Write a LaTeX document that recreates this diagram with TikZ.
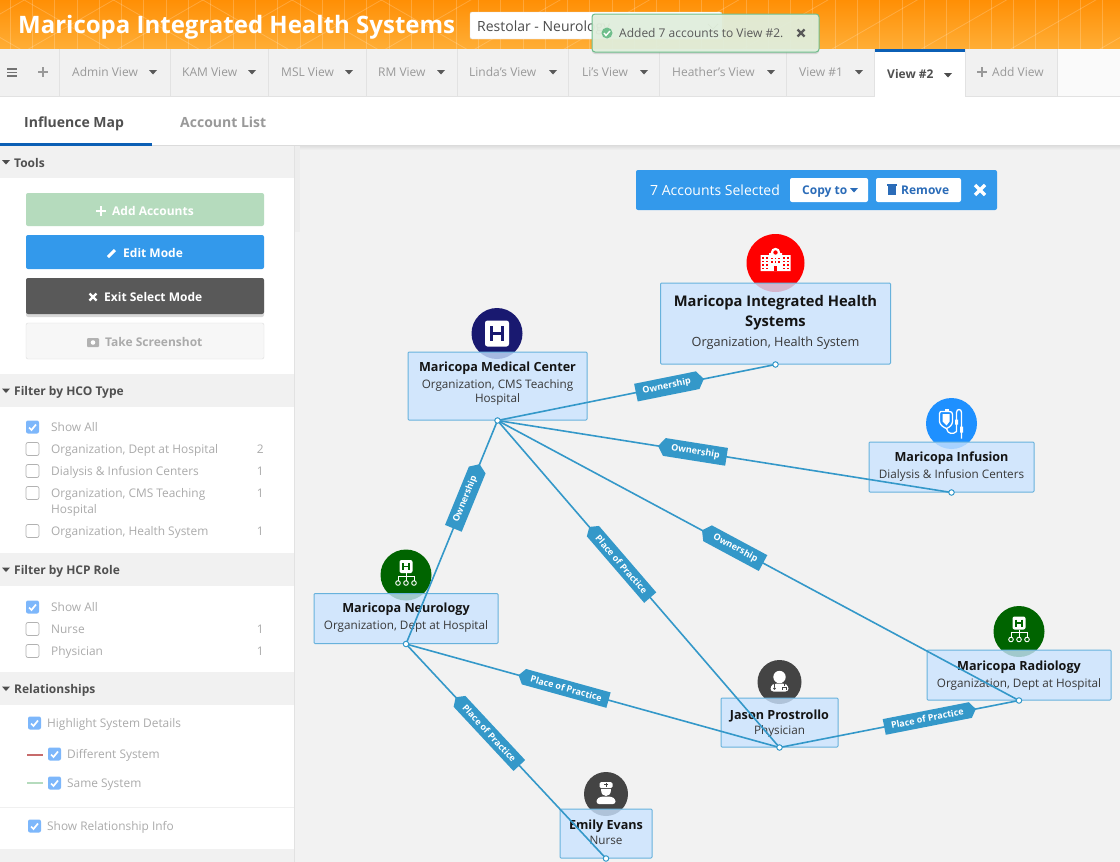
\documentclass[tikz,border=0pt]{standalone}
\usepackage{fontspec}
\setmainfont{Open Sans}
\usetikzlibrary{shapes.symbols}
\usetikzlibrary{shadows}

\definecolor{headtop}{HTML}{FF8F05}
\definecolor{headbottom}{HTML}{FFAE36}
\definecolor{barbg}{HTML}{F1F1F1}
\definecolor{mainbg}{HTML}{F2F2F2}
\definecolor{sepline}{HTML}{E2E2E2}
\definecolor{tabtext}{HTML}{999999}
\definecolor{darktext}{HTML}{505050}
\definecolor{mutedtext}{HTML}{ABABAB}
\definecolor{activeblue}{HTML}{0B5FB5}
\definecolor{btnblue}{HTML}{3399EB}
\definecolor{btngreen}{HTML}{B5DBBD}
\definecolor{btndark}{HTML}{595959}
\definecolor{checkblue}{HTML}{7DB7FB}
\definecolor{linkblue}{HTML}{2B6CB8}
\definecolor{toastbg}{HTML}{E2F0DE}
\definecolor{toastline}{HTML}{6FBE8C}
\definecolor{boxblue}{HTML}{CAE3FF}
\definecolor{boxline}{HTML}{68B2DC}
\definecolor{edgeblue}{HTML}{3498C9}
\definecolor{navyicon}{HTML}{191970}
\definecolor{greenicon}{HTML}{006400}
\definecolor{redicon}{HTML}{FF0000}
\definecolor{blueicon}{HTML}{1E90FF}
\definecolor{grayicon}{HTML}{444444}

\newcommand{\acctitle}[1]{{\color{black!92}\bfseries\fontsize{12.6}{15}\selectfont #1}}

\tikzset{
    flat/.style={anchor=base west, inner sep=0pt, yshift=-#1},
    sidetext/.style={flat=4.2pt, text=mutedtext, font=\fontsize{11.9}{16}\selectfont},
    sidecount/.style={sidetext, anchor=base east},
    sechead/.style={flat=5pt, text=darktext, font=\bfseries\fontsize{12}{14}\selectfont},
    tabtxt/.style={flat=4.2pt, text=tabtext, font=\fontsize{12}{14}\selectfont},
    btntxt/.style={flat=4.2pt, text=white, font=\bfseries\fontsize{12}{14}\selectfont},
    subtab/.style={flat=5pt, font=\bfseries\fontsize{14}{16}\selectfont},
    accbox/.style={draw=boxline, line width=1pt, fill=boxblue, fill opacity=.8, rounded corners=1pt, inner sep=0pt},
    acctext/.style={align=center, inner sep=0pt, text=black!78, font=\fontsize{11.7}{14}\selectfont},
    badge/.style={circle, inner sep=0pt},
    edge/.style={draw=edgeblue, line width=1.6pt},
    enddot/.style={circle, draw=edgeblue, fill=white, line width=1pt, minimum size=5.5pt, inner sep=0pt},
    tagbase/.style={signal, signal from=nowhere, signal pointer angle=110, fill=edgeblue, text=white, sloped,
        font=\bfseries\fontsize{9}{10}\selectfont, inner xsep=7pt, inner ysep=4.5pt, minimum height=15pt},
    tagwest/.style={tagbase, signal to=west},
    tageast/.style={tagbase, signal to=east},
    pics/caret/.style={code={\fill[#1] (-4,-2) -- (4,-2) -- (0,2.5) -- cycle;}},
    pics/plusicon/.style={code={\draw[#1, line width=2.2pt] (-5,0) -- (5,0) (0,-5) -- (0,5);}},
    pics/xicon/.style={code={\draw[#1, line width=2.2pt] (-3.5,-3.5) -- (3.5,3.5) (-3.5,3.5) -- (3.5,-3.5);}},
    pics/checkbox/.style={code={
        \draw[draw=black!30, fill=white, rounded corners=2pt, line width=.7pt] (0,-6.5) rectangle (13,6.5);}},
    pics/checked/.style={code={
        \fill[checkblue, rounded corners=2pt] (0,-6.5) rectangle (13,6.5);
        \draw[white, line width=1.7pt] (3,0.5) -- (5.5,3) -- (10,-2.5);}},
    % badge icons
    pics/hicon/.style={code={
        \fill[white, rounded corners=2.5pt] (-12,-13) rectangle (12,13);
        \draw[navyicon, line width=3.2pt] (-5.5,-7.5) -- (-5.5,7.5) (5.5,-7.5) -- (5.5,7.5) (-5.5,0) -- (5.5,0);}},
    pics/orgicon/.style={code={
        \fill[white, rounded corners=2pt] (-6.5,-15) rectangle (6.5,-2);
        \draw[greenicon, line width=1.6pt] (-3,-12) -- (-3,-5) (3,-12) -- (3,-5) (-3,-8.5) -- (3,-8.5);
        \draw[white, line width=.9pt] (0,-2) -- (0,5.5) (0,1) -- (-8,1) -- (-8,5.5) (0,1) -- (8,1) -- (8,5.5);
        \foreach \cx in {-8,0,8}
            \draw[white, line width=.9pt] (\cx,8) circle (2.3pt);}},
    pics/hospitalicon/.style={code={
        \fill[white] (-15,-8) rectangle (-6,8) (6,-8) rectangle (15,8) (-6.5,-10) rectangle (6.5,8);
        \fill[white] (0,-10.5) circle (4.7pt);
        \fill[redicon] (0,-10.5) circle (2.2pt);
        \fill[redicon] (-1.7,3) rectangle (1.7,8);
        \foreach \dx in {-12.5,-8.5,8.5,12.5}
            \foreach \dy in {-5,-1.5,2,5.5}
                \fill[redicon] (\dx-.7,\dy-.7) rectangle (\dx+.7,\dy+.7);
        \foreach \dx in {-3.5,0,3.5}
            \foreach \dy in {-4.5,-1}
                \fill[redicon] (\dx-.7,\dy-.7) rectangle (\dx+.7,\dy+.7);}},
    pics/infusionicon/.style={code={
        \draw[white, line width=1.3pt, line join=round] (-11,-12) -- (-2,-12) .. controls (0,-12) and (1,-11) .. (1,-9)
            -- (1,-2) .. controls (1,1) and (-2,4) .. (-5,5) .. controls (-8,4) and (-12,1) .. (-12,-2) -- (-12,-10) -- cycle;
        \fill[white] (-9,-9.5) -- (-2,-9.5) -- (-2,-2) -- (-5,2) -- (-9,-2) -- cycle;
        \fill[white] (-7,-15) rectangle (-3,-12);
        \draw[white, line width=1.3pt] (-5,5) .. controls (-4,11) and (2,11) .. (5,8) -- (5,-11)
            .. controls (5,-15) and (10,-15) .. (10,-11) -- (10,15);
        \fill[white] (3.5,-4) rectangle (6.5,1) (8.5,3) rectangle (11.5,9);}},
    pics/doctoricon/.style={code={
        \fill[white] (0,-5) circle (6.2pt);
        \fill[white, rounded corners=3pt] (-9,9.5) -- (-9,4) -- (-5,1.5) -- (5,1.5) -- (9,4) -- (9,9.5) -- cycle;
        \draw[grayicon, line width=.9pt] (-5,1.5) -- (-5,5) (5,1.5) -- (5,4) (3,8) -- (3,5) -- (7,5) -- (7,8);
        \fill[grayicon] (-5,6.5) circle (1.3pt);}},
    pics/nurseicon/.style={code={
        \fill[white, rounded corners=1.5pt] (-6.5,-12) rectangle (6.5,-6);
        \fill[white] (-5,-5) -- (5,-5) .. controls (5,0) and (3,2) .. (0,2) .. controls (-3,2) and (-5,0) .. (-5,-5) -- cycle;
        \draw[grayicon, line width=.8pt] (-2,-9.5) -- (2,-9.5) (0,-11.5) -- (0,-7.5);
        \fill[white, rounded corners=2.5pt] (-9.5,10) -- (-9.5,5) -- (-5,2.5) -- (5,2.5) -- (9.5,5) -- (9.5,10) -- cycle;}},
}

\begin{document}
\begin{tikzpicture}[x=1pt, y=-1pt]
    \useasboundingbox (0,0) rectangle (1120,862);
    \clip (0,0) rectangle (1120,862);
    \fill[white] (0,0) rectangle (1120,862);

    % Header
    \shade[top color=headtop, bottom color=headbottom] (0,0) rectangle (1120,49);
    \begin{scope}
        \clip (0,0) rectangle (1120,49);
        \foreach \k in {0,...,50}
            \draw[white, opacity=.2, line width=.8pt] (\k*22.3+10,0) -- (\k*22.3+10,49);
        \foreach \k in {-4,...,24}
            \draw[white, opacity=.2, line width=.8pt]
                (0,\k*51.5-14) -- (1120,\k*51.5-14+646) (0,\k*51.5+14) -- (1120,\k*51.5+14-646);
    \end{scope}
    \node[flat=8.6pt, text=white, font=\bfseries\fontsize{24}{28}\selectfont] (title) at (18,25) {Maricopa Integrated Health Systems};
    \draw[draw=black!15, fill=white, rounded corners=2pt] (470,12) rectangle (722,39);
    \node[flat=5pt, text=black!70, font=\fontsize{14}{16}\selectfont] (therapy) at (477,26) {Restolar - Neurology};
    \draw[black!50, line width=1pt] (708,24) -- (713,29) -- (718,24);

    % Tab bar
    \fill[barbg] (0,49) rectangle (1057,97);
    \fill[white!98!black] (1057,49) rectangle (1120,97);
    \draw[sepline] (0,96.5) -- (1120,96.5);
    \foreach \x in {59.5,170,268.5,366,457,568,659,786.5,1057}
        \draw[sepline] (\x,49) -- (\x,97);
    \draw[black!55, line width=1.6pt] (7,69) -- (17,69) (7,72.5) -- (17,72.5) (7,76) -- (17,76);
    \pic at (43,72) {plusicon=black!40};
    \foreach \x/\lab/\c in {72/Admin View/153, 182/KAM View/252, 281/MSL View/349, 378/RM View/441,
            469/Linda's View/553, 582/Li's View/644, 672/Heather's View/771, 799/View \#1/859} {
        \node[tabtxt] (tab\x) at (\x,72) {\lab};
        \pic at (\c,72) {caret=black!65};
    }
    \fill[white] (874,49) rectangle (965,97);
    \fill[activeblue] (874,49) rectangle (965,52);
    \draw[sepline] (874,49) -- (874,97) (965,49) -- (965,97);
    \node[tabtxt, text=darktext, font=\bfseries\fontsize{12}{14}\selectfont] (tabactive) at (887,74) {View \#2};
    \pic at (948,75) {caret=black!70};
    \pic at (982,72) {plusicon=black!40};
    \node[tabtxt] (tabadd) at (992,72) {Add View};

    % Toast
    \draw[draw=toastline, fill=toastbg, fill opacity=.93, rounded corners=3pt, line width=1pt,
        drop shadow={shadow xshift=0pt, shadow yshift=-2pt, opacity=.25}] (592,14) rectangle (819,52);
    \fill[toastline] (607,33) circle (5.5pt);
    \draw[white, line width=1.4pt] (604,33) -- (606,35.5) -- (610,31);
    \node[tabtxt, text=black!65] (toast) at (619,33.5) {Added 7 accounts to View \#2.};
    \pic at (801,33) {xicon=black!65};

    % Sub tabs
    \node[subtab, text=darktext] (influence) at (24,122) {Influence Map};
    \node[subtab, text=tabtext] (accountlist) at (180,122) {Account List};
    \fill[activeblue] (0,143) rectangle (152,146);

    % Main area and sidebar
    \fill[mainbg] (295,146) rectangle (1120,862);
    \shade[top color=black!14, bottom color=mainbg] (152,145) rectangle (1120,150);
    \fill[white] (0,146) rectangle (294,862);
    \fill[black!7] (294,146) rectangle (300,232);
    \draw[sepline] (294.5,146) -- (294.5,862);

    % Section heads
    \foreach \y/\h/\lab in {146/32/Tools, 374/33/Filter by HCO Type, 553/33/Filter by HCP Role, 672/33/Relationships} {
        \fill[barbg] (0,\y) rectangle (294,\y+\h);
        \pic at (6,\y+\h/2) {caret=black!70};
        \node[sechead] (sec\y) at (14,\y+\h/2) {\lab};
    }
    \fill[barbg] (0,849) rectangle (294,862);

    % Tool buttons
    \fill[btngreen, rounded corners=2pt] (26,193) rectangle (264,226);
    \pic at (101,211) {plusicon=white};
    \node[btntxt] (addbtn) at (112,211) {Add Accounts};
    \fill[btnblue, rounded corners=2pt] (26,235) rectangle (264,269);
    \draw[white, line width=3pt] (108,257) -- (115,250);
    \node[btntxt] (editbtn) at (123,253) {Edit Mode};
    \fill[btndark, rounded corners=2pt, drop shadow={shadow xshift=0pt, shadow yshift=-3pt, opacity=.3}] (26,278) rectangle (264,314);
    \pic at (93,297) {xicon=white};
    \node[btntxt] (exitbtn) at (104,297) {Exit Select Mode};
    \draw[draw=black!13, fill=white!97!black, rounded corners=2pt] (26,323) rectangle (264,359);
    \fill[black!30, rounded corners=1pt] (87,338) rectangle (99,347);
    \fill[white] (93,342.5) circle (2.3pt);
    \node[btntxt, text=mutedtext] (shotbtn) at (105,342) {Take Screenshot};

    % Filter lists
    \foreach \y in {427,607}
        \pic at (26,\y) {checked};
    \foreach \y in {449,471,493,531,629,651}
        \pic at (26,\y) {checkbox};
    \foreach \y/\lab in {427/Show All, 449/{Organization, Dept at Hospital}, 471/Dialysis \& Infusion Centers,
            493/{Organization, CMS Teaching}, 509/Hospital, 531/{Organization, Health System},
            607/Show All, 629/Nurse, 651/Physician}
        \node[sidetext] (item\y) at (51,\y) {\lab};
    \foreach \y/\n in {449/2, 471/1, 493/1, 531/1, 629/1, 651/1}
        \node[sidecount] (count\y) at (264,\y) {\n};

    % Relationship options
    \foreach \x/\y in {28/723, 48/754, 48/783, 28/826}
        \pic at (\x,\y) {checked};
    \draw[draw=red!45!gray!80, line width=1.2pt] (27,755) -- (43,755);
    \draw[draw=btngreen, line width=1.2pt] (27,783) -- (43,783);
    \draw[black!6] (0,807.5) -- (294,807.5);
    \node[sidetext] (highlight) at (47,723) {Highlight System Details};
    \node[sidetext] (different) at (67,754) {Different System};
    \node[sidetext] (same) at (67,783) {Same System};
    \node[sidetext] (showinfo) at (47,826) {Show Relationship Info};

    % Selection bar
    \fill[btnblue, rounded corners=2pt] (636,170) rectangle (997,210);
    \node[flat=5pt, text=white, font=\fontsize{14}{16}\selectfont] (selected) at (650,190) {7 Accounts Selected};
    \fill[white, rounded corners=2pt] (790,178) rectangle (868,202);
    \fill[white, rounded corners=2pt] (876,178) rectangle (961,202);
    \node[btntxt, text=linkblue] (copyto) at (802,190) {Copy to};
    \pic at (854,190) {caret=linkblue};
    \fill[linkblue] (888,186) rectangle (896,195);
    \fill[linkblue] (887,184) rectangle (897,185.5);
    \node[btntxt, text=linkblue] (removebtn) at (901,190) {Remove};
    \draw[white, line width=3.2pt] (975,185) -- (985,195) (975,195) -- (985,185);

    % Maricopa Integrated Health Systems
    \node[badge, fill=redicon, minimum size=58pt] (mihsbadge) at (775.5,263) {};
    \pic at (775.5,263) {hospitalicon};
    \node[accbox, minimum width=230pt, minimum height=81pt] (mihs) at (775.5,323.5) {};
    \node[acctext, font=\fontsize{12.7}{14}\selectfont] (mihstext) at (775.5,322.5) {{\color{black!92}\bfseries\fontsize{14.7}{18}\selectfont Maricopa Integrated Health}\\[4pt]{\color{black!92}\bfseries\fontsize{14.7}{18}\selectfont Systems}\\[6pt]Organization, Health System};

    % Maricopa Medical Center
    \node[badge, fill=navyicon, minimum size=51pt] (mmcbadge) at (497,333.5) {};
    \pic at (497,333.5) {hicon};
    \node[accbox, minimum width=179pt, minimum height=68pt] (mmc) at (497.5,386) {};
    \node[acctext] (mmctext) at (497.5,383.5) {\acctitle{Maricopa Medical Center}\\[3pt]Organization, CMS Teaching\\Hospital};

    % Maricopa Infusion
    \node[badge, fill=blueicon, minimum size=51pt] (infusionbadge) at (951.5,423.5) {};
    \pic at (951.5,423.5) {infusionicon};
    \node[accbox, minimum width=165pt, minimum height=50pt] (infusion) at (951.5,467) {};
    \node[acctext] (infusiontext) at (951.5,466.5) {\acctitle{Maricopa Infusion}\\[3pt]Dialysis \& Infusion Centers};

    % Maricopa Neurology
    \node[badge, fill=greenicon, minimum size=51pt] (neurobadge) at (406,575) {};
    \pic at (406,575) {orgicon};
    \node[accbox, minimum width=184pt, minimum height=50pt] (neuro) at (406,618.5) {};
    \node[acctext] (neurotext) at (406,618) {\acctitle{Maricopa Neurology}\\[3pt]Organization, Dept at Hospital};

    % Maricopa Radiology
    \node[badge, fill=greenicon, minimum size=51pt] (radiobadge) at (1019,631.5) {};
    \pic at (1019,631.5) {orgicon};
    \node[accbox, minimum width=184pt, minimum height=50pt] (radio) at (1019,675) {};
    \node[acctext] (radiotext) at (1019,675.5) {\acctitle{Maricopa Radiology}\\[3pt]Organization, Dept at Hospital};

    % Jason Prostrollo
    \node[badge, fill=grayicon, minimum size=44pt] (jasonbadge) at (779.5,682) {};
    \pic at (779.5,682) {doctoricon};
    \node[accbox, minimum width=117pt, minimum height=49pt] (jason) at (779.5,722.5) {};
    \node[acctext] (jasontext) at (779.5,723.5) {\acctitle{Jason Prostrollo}\\[1pt]Physician};

    % Emily Evans
    \node[badge, fill=grayicon, minimum size=44pt] (emilybadge) at (606,794) {};
    \pic at (606,794) {nurseicon};
    \node[accbox, minimum width=92pt, minimum height=49pt] (emily) at (606,833.5) {};
    \node[acctext] (emilytext) at (606,832.5) {\acctitle{Emily Evans}\\[1pt]Nurse};

    % Relationships
    \draw[edge] (mmc.south) -- node[tageast, pos=.609] (tagmihs) {Ownership} (mihs.south);
    \draw[edge] (mmc.south) -- node[tagwest, pos=.436] (taginfusion) {Ownership} (infusion.south);
    \draw[edge] (mmc.south) -- node[tageast, pos=.352] (tagneuro) {Ownership} (neuro.south);
    \draw[edge] (mmc.south) -- node[tagwest, pos=.44] (tagjason) {Place of Practice} (jason.south);
    \draw[edge] (mmc.south) -- node[tagwest, pos=.456] (tagradio) {Ownership} (radio.south);
    \draw[edge] (neuro.south) -- node[tagwest, pos=.429] (tagneurojason) {Place of Practice} (jason.south);
    \draw[edge] (neuro.south) -- node[tagwest, pos=.417] (tagemily) {Place of Practice} (emily.south);
    \draw[edge] (jason.south) -- node[tageast, pos=.617] (tagjasonradio) {Place of Practice} (radio.south);

    \foreach \acc in {mmc,mihs,infusion,neuro,radio,jason,emily}
        \node[enddot] (\acc dot) at (\acc.south) {};
\end{tikzpicture}
\end{document}
